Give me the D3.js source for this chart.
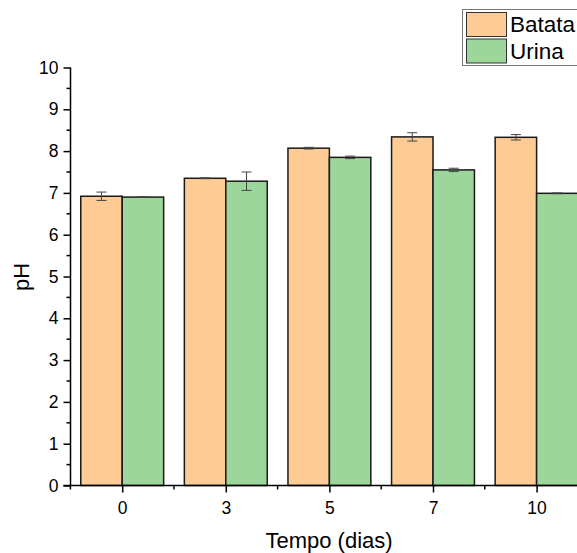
<!DOCTYPE html>
<html><head><meta charset="utf-8">
<script src="https://cdn.jsdelivr.net/npm/d3@7"></script>
<style>body{margin:0;background:#fff}svg{display:block}</style>
</head><body>
<script>
const categories = ["0","3","5","7","10"];
const seriesNames = ["Batata","Urina"];
const batata = [6.92, 7.35, 8.07, 8.34, 8.33];
const batataErr = [0.10, 0.01, 0.02, 0.10, 0.065];
const urina = [6.90, 7.28, 7.85, 7.55, 6.99];
const urinaErr = [0.01, 0.22, 0.03, 0.04, 0.01];
const yTicks = [0,1,2,3,4,5,6,7,8,9,10];
const colors = ["#FDCB93","#9DD69A"];

const W = 577, H = 553;
const svg = d3.select("body").append("svg").attr("width", W).attr("height", H);
const font = "Arial, 'Liberation Sans', sans-serif";

const x0 = 70.4, step = 103.6;
const xOuter = d3.scaleBand().domain(categories).range([x0, x0 + step*categories.length]).padding(0);
const xs = d3.scaleBand().domain(seriesNames).range([0, step*0.8]);
const y = d3.scaleLinear().domain([0,10]).range([485.5, 67.5]);

const data = categories.map((c,i)=>({c, vals:[{s:"Batata",v:batata[i],e:batataErr[i]},{s:"Urina",v:urina[i],e:urinaErr[i]}]}));

const g = svg.append("g");
const groups = g.selectAll("g.grp").data(data).join("g")
  .attr("transform", d => `translate(${xOuter(d.c) + step*0.1},0)`);
groups.selectAll("rect").data(d=>d.vals).join("rect")
  .attr("x", d=>xs(d.s)).attr("width", xs.bandwidth())
  .attr("y", d=>y(d.v)).attr("height", d=>y(0)-y(d.v))
  .attr("fill", (d,i)=>colors[i]).attr("stroke","#1a1a1a").attr("stroke-width",1.5);
const eb = groups.selectAll("g.eb").data(d=>d.vals).join("g").attr("class","eb");
eb.append("line").attr("x1",d=>xs(d.s)+xs.bandwidth()/2).attr("x2",d=>xs(d.s)+xs.bandwidth()/2)
  .attr("y1",d=>y(d.v+d.e)).attr("y2",d=>y(d.v-d.e)).attr("stroke","#444").attr("stroke-width",1);
eb.selectAll("line.cap").data(d=>[d.v+d.e, d.v-d.e].map(v=>({v, s:d.s}))).join("line").attr("class","cap")
  .attr("x1",d=>xs(d.s)+xs.bandwidth()/2-5).attr("x2",d=>xs(d.s)+xs.bandwidth()/2+5)
  .attr("y1",d=>y(d.v)).attr("y2",d=>y(d.v)).attr("stroke","#444").attr("stroke-width",1);

// Y axis
const yAxis = d3.axisLeft(y).tickValues(yTicks).tickFormat(d3.format("d")).tickSize(7).tickPadding(5);
const ya = svg.append("g").attr("transform","translate(70.5,0)").call(yAxis);
ya.select(".domain").attr("stroke","#000").attr("stroke-width",1.5).attr("d", `M0,${y(10)}V${y(0)}`);
ya.selectAll(".tick line").attr("stroke","#000").attr("stroke-width",1.5);
ya.selectAll(".tick text").attr("font-family",font).attr("font-size",17.5).attr("fill","#000");
const yMinor = d3.range(0.5,10,1);
ya.selectAll("line.minor").data(yMinor).join("line").attr("class","minor")
  .attr("x1",-4).attr("x2",0).attr("y1",d=>y(d)).attr("y2",d=>y(d)).attr("stroke","#000").attr("stroke-width",1.5);

// X axis
const xCenter = d3.scalePoint().domain(categories).range([x0+step/2, x0+step*(categories.length-0.5)]);
const xAxis = d3.axisBottom(xCenter).tickSize(7).tickPadding(9);
const xa = svg.append("g").attr("transform",`translate(0,${y(0)})`).call(xAxis);
xa.select(".domain").attr("stroke","#000").attr("stroke-width",1.5).attr("d", `M${x0-7},0H${W+10}`);
xa.selectAll(".tick line").attr("stroke","#000").attr("stroke-width",1.5);
xa.selectAll(".tick text").attr("font-family",font).attr("font-size",17.5).attr("fill","#000");
xa.selectAll("line.minor").data(categories).join("line").attr("class","minor")
  .attr("x1",d=>xOuter(d)).attr("x2",d=>xOuter(d)).attr("y1",0).attr("y2",4).attr("stroke","#000").attr("stroke-width",1.5);

// Axis titles
svg.append("text").attr("x",329).attr("y",548).attr("text-anchor","middle")
  .attr("font-family",font).attr("font-size",22).text("Tempo (dias)");
svg.append("text").attr("transform","translate(29,277) rotate(-90)").attr("text-anchor","middle")
  .attr("font-family",font).attr("font-size",22).text("pH");

// Legend
const lg = svg.append("g");
lg.append("rect").attr("x",462.5).attr("y",9.5).attr("width",140).attr("height",56)
  .attr("fill","#fff").attr("stroke","#777").attr("stroke-width",1);
seriesNames.forEach((s,i)=>{
  lg.append("rect").attr("x",466.5).attr("y",12.5+i*26.5).attr("width",40).attr("height",24)
    .attr("fill",colors[i]).attr("stroke","#333").attr("stroke-width",1);
  lg.append("text").attr("x",510).attr("y",32+i*26.5).attr("font-family",font).attr("font-size",22.5).text(s);
});
</script>
</body></html>
